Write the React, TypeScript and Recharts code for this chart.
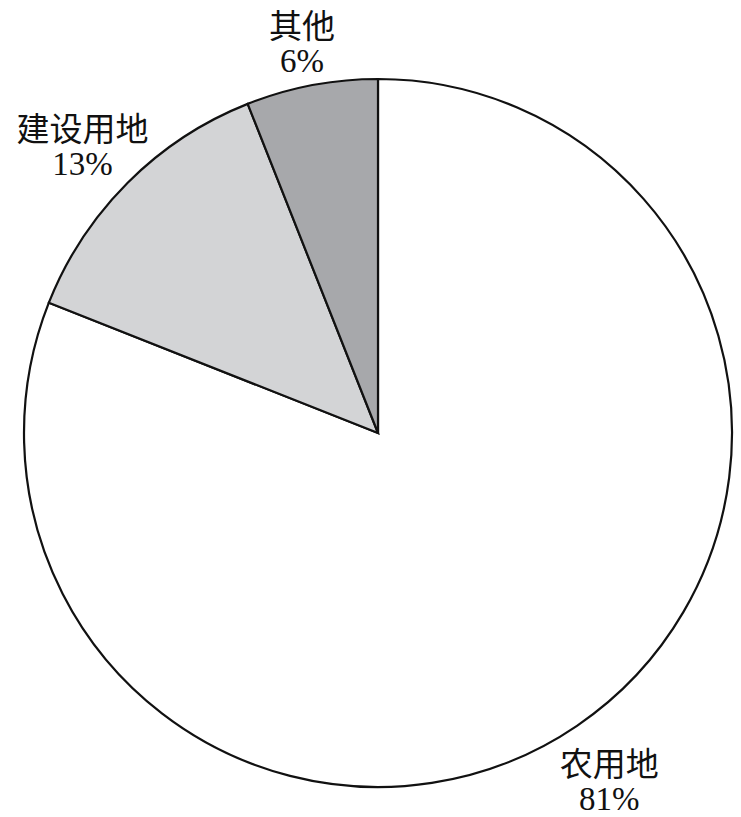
import { PieChart, Pie, Cell } from "recharts"

const categories = ["农用地", "建设用地", "其他"]
const shares = [81, 13, 6]
const colors = ["#ffffff", "#d3d4d6", "#a7a8ab"]

const data = categories.map((name, i) => ({ name, value: shares[i] }))

const RADIAN = Math.PI / 180
const FONT = 33

// two-line label, pushed out along the mid angle until its box clears the rim
function renderLabel(props: any) {
  const { cx, cy, midAngle, outerRadius, index } = props
  const cos = Math.cos(-midAngle * RADIAN)
  const sin = Math.sin(-midAngle * RADIAN)
  const halfW = (categories[index].length * FONT) / 2
  const halfH = 31
  const t = Math.min(halfW / Math.max(Math.abs(cos), 1e-6), halfH / Math.max(Math.abs(sin), 1e-6))
  const r = outerRadius + 20 + t
  const x = cx + r * cos
  const y = cy + r * sin
  return (
    <text
      x={x}
      y={y}
      textAnchor="middle"
      fill="#111"
      fontSize={FONT}
      fontFamily="'Liberation Serif', 'Noto Sans CJK SC', serif"
    >
      <tspan x={x} dy={3}>{categories[index]}</tspan>
      <tspan x={x} dy={34}>{shares[index]}%</tspan>
    </text>
  )
}

export default function App() {
  return (
    <div style={{ position: "absolute", left: 0, top: 0, width: 741, height: 817, background: "#fff" }}>
      <PieChart width={741} height={817} margin={{ top: 0, right: 0, bottom: 0, left: 0 }}>
        <Pie
          data={data}
          dataKey="value"
          nameKey="name"
          cx={378}
          cy={433}
          outerRadius={354}
          startAngle={90}
          endAngle={-270}
          stroke="#111"
          strokeWidth={2.2}
          label={renderLabel}
          labelLine={false}
          isAnimationActive={false}
        >
          {data.map((d, i) => (
            <Cell key={d.name} fill={colors[i]} />
          ))}
        </Pie>
      </PieChart>
    </div>
  )
}
